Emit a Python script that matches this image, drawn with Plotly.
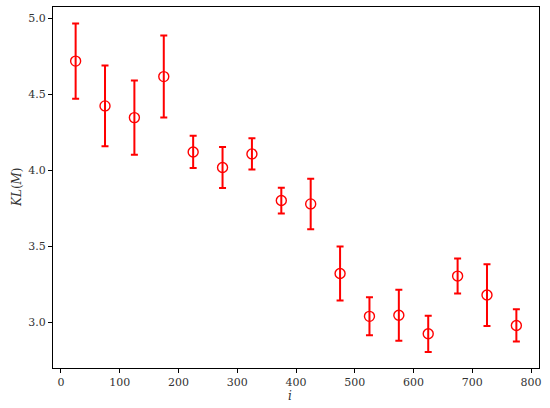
import plotly.graph_objects as go

# block index (midpoints) and KL(M) estimates with standard errors
i_vals = [25, 75, 125, 175, 225, 275, 325, 375, 425, 475, 525, 575, 625, 675, 725, 775]
kl_mean = [4.72, 4.425, 4.348, 4.618, 4.122, 4.02, 4.109, 3.802, 3.78, 3.322,
           3.04, 3.047, 2.925, 3.305, 3.18, 2.98]
kl_err = [0.248, 0.266, 0.245, 0.27, 0.106, 0.135, 0.103, 0.085, 0.166, 0.178,
          0.125, 0.168, 0.119, 0.115, 0.203, 0.106]

RED = "#ff0000"
FONT = "DejaVu Serif"

fig = go.Figure()
fig.add_trace(go.Scatter(
    x=i_vals,
    y=kl_mean,
    mode="markers",
    marker=dict(symbol="circle-open", size=10, color=RED, line=dict(width=1.4, color=RED)),
    error_y=dict(type="data", array=kl_err, visible=True, color=RED, thickness=2, width=3.5),
    showlegend=False,
))

axis_common = dict(
    showline=True, linecolor="black", linewidth=1, mirror=True,
    ticks="outside", ticklen=4, tickwidth=1, tickcolor="black",
    showgrid=False, zeroline=False, automargin=False,
    tickfont=dict(family=FONT, size=11, color="#333"),
)

fig.update_xaxes(
    range=[-13.5, 813.5],
    tickvals=[0, 100, 200, 300, 400, 500, 600, 700, 800],
    **axis_common,
)
fig.update_yaxes(
    range=[2.70, 5.076],
    tickvals=[3.0, 3.5, 4.0, 4.5, 5.0],
    tickformat=".1f",
    **axis_common,
)

# axis titles as annotations so they sit where the reference puts them
fig.add_annotation(text="<i>i</i>", xref="paper", yref="paper", x=0.487, y=-0.078,
                   showarrow=False, yanchor="middle",
                   font=dict(family=FONT, size=12, color="#333"))
fig.add_annotation(text="<i>KL</i>(<i>M</i>)", xref="paper", yref="paper", x=-0.075, y=0.5,
                   showarrow=False, textangle=-90, xanchor="center",
                   font=dict(family=FONT, size=12, color="#333"))

fig.update_layout(
    width=550,
    height=408,
    plot_bgcolor="white",
    paper_bgcolor="white",
    margin=dict(l=53, r=11, t=7, b=40),
)

# drop the browser's default body margin so the figure sits at the window corner
fig.write_html("out.html", config={"displayModeBar": False},
               post_script="document.body.style.margin='0';")
